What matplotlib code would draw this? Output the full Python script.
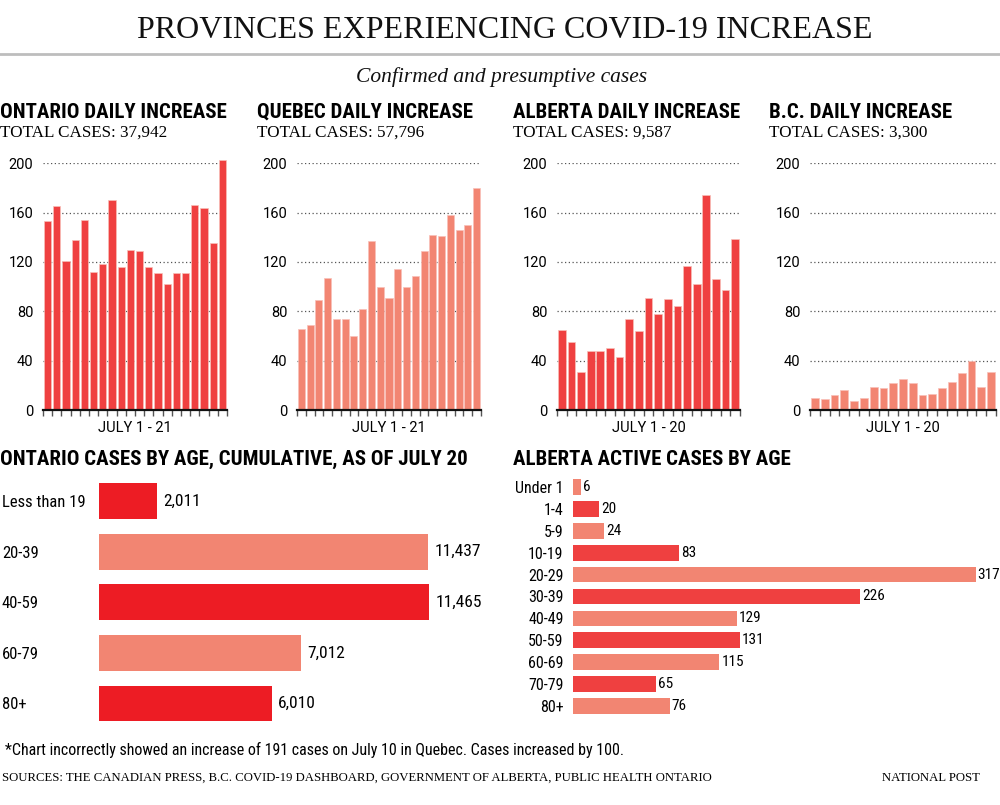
import matplotlib

matplotlib.use("Agg")
import matplotlib.pyplot as plt
from matplotlib import font_manager
from matplotlib.lines import Line2D

# daily increases
ontario_daily = [153, 165, 121, 138, 154, 112, 118, 170, 116, 130, 129, 116, 111, 102, 111, 111, 166, 164, 135, 203]
quebec_daily = [66, 69, 89, 107, 74, 74, 60, 82, 137, 100, 91, 114, 100, 109, 129, 142, 141, 158, 146, 150, 180]
alberta_daily = [65, 55, 31, 48, 48, 50, 43, 74, 64, 91, 78, 90, 84, 117, 102, 174, 106, 97, 139]
bc_daily = [10, 9, 12, 16, 7, 10, 19, 18, 22, 25, 22, 12, 13, 18, 23, 30, 40, 19, 31]

daily_titles = ["ONTARIO DAILY INCREASE", "QUEBEC DAILY INCREASE", "ALBERTA DAILY INCREASE", "B.C. DAILY INCREASE"]
daily_totals = ["TOTAL CASES: 37,942", "TOTAL CASES: 57,796", "TOTAL CASES: 9,587", "TOTAL CASES: 3,300"]
daily_ranges = ["JULY 1 - 21", "JULY 1 - 21", "JULY 1 - 20", "JULY 1 - 20"]
y_ticks = [0, 40, 80, 120, 160, 200]

ontario_ages = ["Less than 19", "20-39", "40-59", "60-79", "80+"]
ontario_age_cases = [2011, 11437, 11465, 7012, 6010]

alberta_ages = ["Under 1", "1-4", "5-9", "10-19", "20-29", "30-39", "40-49", "50-59", "60-69", "70-79", "80+"]
alberta_age_cases = [6, 20, 24, 83, 317, 226, 129, 131, 115, 65, 76]

RED = "#ef4040"
BRIGHT_RED = "#ed1c24"
SALMON = "#f28572"

available = {f.name for f in font_manager.fontManager.ttflist}


def pick(*names):
    for name in names:
        if name in available:
            return name
    return "DejaVu Sans"


NARROW = pick("Liberation Sans Narrow", "Roboto Condensed", "Roboto")
SCALE = 1.0 if NARROW in ("Liberation Sans Narrow", "Roboto Condensed") else 0.82
SANS = pick("Roboto", "Liberation Sans")
SERIF = pick("Liberation Serif", "DejaVu Serif")

W, H = 1000, 805
fig = plt.figure(figsize=(W / 100, H / 100), dpi=100)


def px_axes(left, top, right, bottom):
    return fig.add_axes([left / W, 1 - bottom / H, (right - left) / W, (bottom - top) / H])


def ftext(x, y, s, **kw):
    return fig.text(x / W, 1 - y / H, s, **kw)


# header
ftext(505, 38.5, "PROVINCES EXPERIENCING COVID-19 INCREASE", family=SERIF, fontsize=23,
      ha="center", va="baseline", color="#111")
fig.add_artist(Line2D([0, 1], [1 - 54.5 / H] * 2, transform=fig.transFigure, color="#bdbdbd", lw=2))
ftext(502, 82, "Confirmed and presumptive cases", family=SERIF, style="italic", fontsize=15.5,
      ha="center", va="baseline", color="#111")

# daily panels: title x, axes left, axes right
panels = [(0, 43, 227), (257, 297, 481), (513, 557, 740), (769, 810, 996)]
series = [ontario_daily, quebec_daily, alberta_daily, bc_daily]
colors = [RED, SALMON, RED, SALMON]

for (tx, left, right), values, color, title, total, span in zip(
    panels, series, colors, daily_titles, daily_totals, daily_ranges
):
    ftext(tx, 118, title, family=NARROW, weight="bold", fontsize=15 * SCALE, va="baseline")
    ftext(tx, 137, total, family=SERIF, fontsize=12.3, va="baseline")

    ax = px_axes(left, 163.3, right, 410)
    n = len(values)
    ax.bar(range(n), values, width=0.8, color=color, edgecolor="#f8c0b8", linewidth=0.5, clip_on=False, zorder=3)
    ax.set_xlim(-0.5, n - 0.5)
    ax.set_ylim(0, 200)
    ax.set_yticks(y_ticks)
    ax.set_yticklabels([str(t) for t in y_ticks], family=SANS, fontsize=10.5)
    ax.set_xticks([i - 0.5 for i in range(n + 1)])
    ax.set_xticklabels([])
    ax.tick_params(axis="y", length=0, pad=7)
    ax.tick_params(axis="x", length=4, width=1, color="#555")
    ax.yaxis.grid(True, linestyle=(0, (1, 2)), color="#555", lw=0.9)
    ax.set_axisbelow(True)
    for side in ("top", "right", "left"):
        ax.spines[side].set_visible(False)
    ax.spines["bottom"].set_linewidth(1.6)
    ax.spines["bottom"].set_color("#111")
    ax.spines["bottom"].set_zorder(4)
    ftext((left + right) / 2, 428, span, family=SANS, fontsize=10.5, ha="center", va="center")

# Ontario by age
ftext(0, 465, "ONTARIO CASES BY AGE, CUMULATIVE, AS OF JULY 20", family=NARROW, weight="bold",
      fontsize=15 * SCALE, va="baseline")
ax = px_axes(99, 475.7, 99 + 12000 * 0.02879, 728.8)
ax.barh(range(len(ontario_ages)), ontario_age_cases, height=0.71,
        color=[BRIGHT_RED, SALMON, BRIGHT_RED, SALMON, BRIGHT_RED])
for i, v in enumerate(ontario_age_cases):
    ax.annotate(f"{v:,}", (v, i), xytext=(4.5, 0), textcoords="offset points", va="center",
                family=NARROW, fontsize=12.5 * SCALE, annotation_clip=False)
ax.set_xlim(0, 12000)
ax.set_ylim(len(ontario_ages) - 0.5, -0.5)
ax.set_xticks([])
ax.set_yticks(range(len(ontario_ages)))
ax.set_yticklabels(ontario_ages, family=NARROW, fontsize=12 * SCALE, ha="left")
ax.tick_params(axis="y", length=0, pad=97 * 0.72)
for spine in ax.spines.values():
    spine.set_visible(False)

# Alberta by age
ftext(513, 465, "ALBERTA ACTIVE CASES BY AGE", family=NARROW, weight="bold", fontsize=15 * SCALE, va="baseline")
ax = px_axes(573.3, 476, 573.3 + 330 * 1.269, 717)
ax.barh(range(len(alberta_ages)), alberta_age_cases, height=0.72,
        color=[SALMON if i % 2 == 0 else RED for i in range(len(alberta_ages))])
for i, v in enumerate(alberta_age_cases):
    ax.annotate(str(v), (v, i), xytext=(1.5, 0), textcoords="offset points", va="center",
                family=NARROW, fontsize=11 * SCALE, annotation_clip=False)
ax.set_xlim(0, 330)
ax.set_ylim(len(alberta_ages) - 0.5, -0.5)
ax.set_xticks([])
ax.set_yticks(range(len(alberta_ages)))
ax.set_yticklabels(alberta_ages, family=NARROW, fontsize=11.5 * SCALE)
ax.tick_params(axis="y", length=0, pad=7)
for spine in ax.spines.values():
    spine.set_visible(False)

# footer
ftext(5, 755, "*Chart incorrectly showed an increase of 191 cases on July 10 in Quebec. Cases increased by 100.",
      family=NARROW, fontsize=11.5 * SCALE, va="baseline")
ftext(2, 781, "SOURCES: THE CANADIAN PRESS, B.C. COVID-19 DASHBOARD, GOVERNMENT OF ALBERTA, PUBLIC HEALTH ONTARIO",
      family=SERIF, fontsize=9.2, va="baseline")
ftext(980, 781, "NATIONAL POST", family=SERIF, fontsize=9.2, ha="right", va="baseline")

fig.savefig("out.png", dpi=100)
plt.close(fig)
